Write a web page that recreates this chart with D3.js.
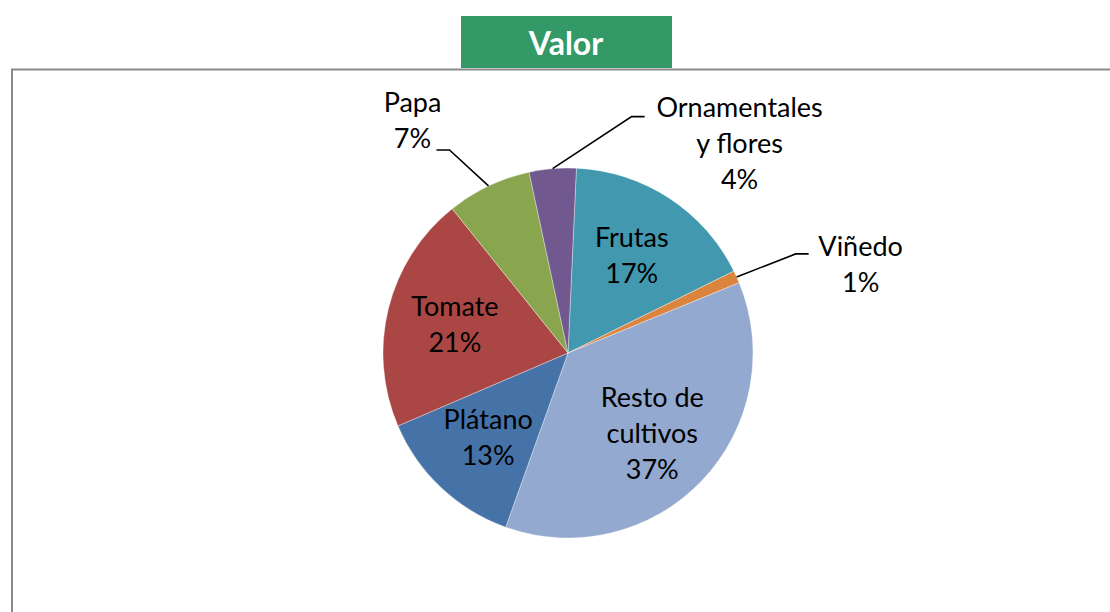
<!DOCTYPE html>
<html>
<head>
<meta charset="utf-8">
<script src="https://cdn.jsdelivr.net/npm/d3@7"></script>
<style>
    body { margin: 0; background: #fff; }
    svg { display: block; }
    .lbl { font-family: Lato, "Open Sans", sans-serif; font-size: 27px; fill: #000; }
    .title { font-family: Lato, sans-serif; font-weight: bold; font-size: 32px; fill: #fff; }
</style>
</head>
<body>
<div id="chart"></div>
<script>
// Chart data (share of value, %)
const categories = ['Frutas', 'Viñedo', 'Resto de cultivos', 'Plátano', 'Tomate', 'Papa', 'Ornamentales y flores'];
const labelLines = [['Frutas'], ['Viñedo'], ['Resto de', 'cultivos'], ['Plátano'], ['Tomate'], ['Papa'], ['Ornamentales', 'y flores']];
const values = [17.0, 1.1, 36.7, 13.1, 20.7, 7.4, 4.1];
const colors = ['#4198AF', '#DB843D', '#93A9CF', '#4572A7', '#AA4643', '#89A54E', '#71588F'];

// Labels that sit outside the pie with a leader line
const outside = {
    'Papa':                  { end: [-52, -36], side: -1, text: [-24, -38] },
    'Ornamentales y flores': { end: [92, -52],  side: 1,  text: [95, 0] },
    'Viñedo':                { end: [72, -23],  side: 1,  text: [52, 2] }
};

const width = 1110, height = 612;
const cx = 568, cy = 353, radius = 185;
const lineH = 36, capH = 19;

const svg = d3.select('#chart')
    .append('svg')
    .attr('width', width)
    .attr('height', height);

// Frame
svg.append('rect')
    .attr('x', 12)
    .attr('y', 69.5)
    .attr('width', 1200)
    .attr('height', 1000)
    .attr('fill', 'none')
    .attr('stroke', '#8a8a8a')
    .attr('stroke-width', 2);

// Title box
svg.append('rect')
    .attr('x', 461)
    .attr('y', 16)
    .attr('width', 211)
    .attr('height', 52)
    .attr('fill', '#339966');

svg.append('text')
    .attr('class', 'title')
    .attr('x', 566)
    .attr('y', 55)
    .attr('text-anchor', 'middle')
    .text('Valor');

const total = d3.sum(values);
const start = 2.6 * Math.PI / 180;

const pie = d3.pie()
    .sort(null)
    .value(d => d.value)
    .startAngle(start)
    .endAngle(start + 2 * Math.PI);

const data = categories.map((c, i) => ({
    name: c,
    value: values[i],
    color: colors[i],
    lines: labelLines[i].concat([Math.round(values[i] / total * 100) + '%'])
}));

const arcs = pie(data);
const arc = d3.arc().innerRadius(0).outerRadius(radius);
const labelArc = d3.arc().innerRadius(radius * 0.63).outerRadius(radius * 0.63);

const g = svg.append('g')
    .attr('transform', `translate(${cx}, ${cy})`);

// Slices
g.selectAll('path.slice')
    .data(arcs)
    .enter()
    .append('path')
    .attr('class', 'slice')
    .attr('d', arc)
    .attr('fill', d => d.data.color)
    .attr('stroke', '#ffffff')
    .attr('stroke-opacity', 0.6)
    .attr('stroke-width', 0.6);

// Inside labels
arcs.filter(d => !outside[d.data.name]).forEach(d => {
    const [x, y] = labelArc.centroid(d);
    const n = d.data.lines.length;
    const first = y - ((n - 1) * lineH + capH) / 2 + capH;
    const t = g.append('text')
        .attr('class', 'lbl')
        .attr('text-anchor', 'middle');
    d.data.lines.forEach((line, i) => {
        t.append('tspan')
            .attr('x', x)
            .attr('y', first + i * lineH)
            .text(line);
    });
});

// Outside labels with leader lines
arcs.filter(d => outside[d.data.name]).forEach(d => {
    const o = outside[d.data.name];
    const mid = (d.startAngle + d.endAngle) / 2;
    const ex = radius * Math.sin(mid);
    const ey = -radius * Math.cos(mid);
    const endX = ex + o.end[0], endY = ey + o.end[1];
    const elbowX = endX - o.side * 13;

    g.append('path')
        .attr('d', d3.line()([[ex, ey], [elbowX, endY], [endX, endY]]))
        .attr('fill', 'none')
        .attr('stroke', '#000')
        .attr('stroke-width', 1.6);

    const t = g.append('text')
        .attr('class', 'lbl')
        .attr('text-anchor', 'middle');
    d.data.lines.forEach((line, i) => {
        t.append('tspan')
            .attr('x', endX + o.text[0])
            .attr('y', endY + o.text[1] + i * lineH)
            .text(line);
    });
});
</script>
</body>
</html>
